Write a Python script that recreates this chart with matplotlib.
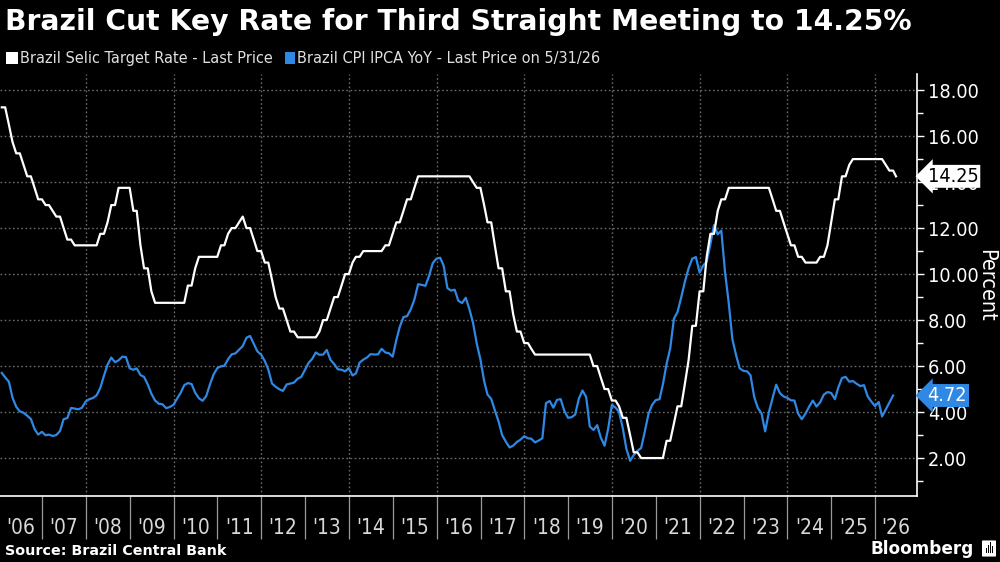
import pandas as pd
import matplotlib.pyplot as plt
import matplotlib.dates as mdates
from matplotlib import font_manager
from matplotlib.font_manager import FontProperties
from matplotlib.patches import Rectangle, FancyBboxPatch
from matplotlib.ticker import FixedLocator, MultipleLocator, NullFormatter
from matplotlib.transforms import blended_transform_factory

# monthly, end of month, Jan 2006 .. May 2026
months = pd.date_range('2006-01-31', '2026-05-31', freq='ME')

selic = [
    17.25, 17.25, 16.5, 15.75, 15.25, 15.25, 14.75, 14.25, 14.25, 13.75, 13.25, 13.25,  # 2006
    13.0, 13.0, 12.75, 12.5, 12.5, 12.0, 11.5, 11.5, 11.25, 11.25, 11.25, 11.25,  # 2007
    11.25, 11.25, 11.25, 11.75, 11.75, 12.25, 13.0, 13.0, 13.75, 13.75, 13.75, 13.75,  # 2008
    12.75, 12.75, 11.25, 10.25, 10.25, 9.25, 8.75, 8.75, 8.75, 8.75, 8.75, 8.75,  # 2009
    8.75, 8.75, 8.75, 9.5, 9.5, 10.25, 10.75, 10.75, 10.75, 10.75, 10.75, 10.75,  # 2010
    11.25, 11.25, 11.75, 12.0, 12.0, 12.25, 12.5, 12.0, 12.0, 11.5, 11.0, 11.0,  # 2011
    10.5, 10.5, 9.75, 9.0, 8.5, 8.5, 8.0, 7.5, 7.5, 7.25, 7.25, 7.25,  # 2012
    7.25, 7.25, 7.25, 7.5, 8.0, 8.0, 8.5, 9.0, 9.0, 9.5, 10.0, 10.0,  # 2013
    10.5, 10.75, 10.75, 11.0, 11.0, 11.0, 11.0, 11.0, 11.0, 11.25, 11.25, 11.75,  # 2014
    12.25, 12.25, 12.75, 13.25, 13.25, 13.75, 14.25, 14.25, 14.25, 14.25, 14.25, 14.25,  # 2015
    14.25, 14.25, 14.25, 14.25, 14.25, 14.25, 14.25, 14.25, 14.25, 14.0, 13.75, 13.75,  # 2016
    13.0, 12.25, 12.25, 11.25, 10.25, 10.25, 9.25, 9.25, 8.25, 7.5, 7.5, 7.0,  # 2017
    7.0, 6.75, 6.5, 6.5, 6.5, 6.5, 6.5, 6.5, 6.5, 6.5, 6.5, 6.5,  # 2018
    6.5, 6.5, 6.5, 6.5, 6.5, 6.5, 6.0, 6.0, 5.5, 5.0, 5.0, 4.5,  # 2019
    4.5, 4.25, 3.75, 3.75, 3.0, 2.25, 2.25, 2.0, 2.0, 2.0, 2.0, 2.0,  # 2020
    2.0, 2.0, 2.75, 2.75, 3.5, 4.25, 4.25, 5.25, 6.25, 7.75, 7.75, 9.25,  # 2021
    9.25, 10.75, 11.75, 11.75, 12.75, 13.25, 13.25, 13.75, 13.75, 13.75, 13.75, 13.75,  # 2022
    13.75, 13.75, 13.75, 13.75, 13.75, 13.75, 13.75, 13.25, 12.75, 12.75, 12.25, 11.75,  # 2023
    11.25, 11.25, 10.75, 10.75, 10.5, 10.5, 10.5, 10.5, 10.75, 10.75, 11.25, 12.25,  # 2024
    13.25, 13.25, 14.25, 14.25, 14.75, 15.0, 15.0, 15.0, 15.0, 15.0, 15.0, 15.0,  # 2025
    15.0, 15.0, 14.75, 14.5, 14.5,  # 2026
]
selic_last_date = pd.Timestamp('2026-06-24')
selic_last = 14.25

ipca = [
    5.70, 5.51, 5.32, 4.63, 4.23, 4.03, 3.97, 3.84, 3.70, 3.26, 3.02, 3.14,  # 2006
    2.99, 3.02, 2.96, 3.00, 3.18, 3.69, 3.74, 4.18, 4.15, 4.12, 4.19, 4.46,  # 2007
    4.56, 4.61, 4.73, 5.04, 5.58, 6.06, 6.37, 6.17, 6.25, 6.41, 6.39, 5.90,  # 2008
    5.84, 5.90, 5.61, 5.53, 5.20, 4.80, 4.50, 4.36, 4.34, 4.17, 4.22, 4.31,  # 2009
    4.59, 4.83, 5.17, 5.26, 5.22, 4.84, 4.60, 4.49, 4.70, 5.20, 5.63, 5.91,  # 2010
    5.99, 6.01, 6.30, 6.51, 6.55, 6.71, 6.87, 7.23, 7.31, 6.97, 6.64, 6.50,  # 2011
    6.22, 5.85, 5.24, 5.10, 4.99, 4.92, 5.20, 5.24, 5.28, 5.45, 5.53, 5.84,  # 2012
    6.15, 6.31, 6.59, 6.49, 6.50, 6.70, 6.27, 6.09, 5.86, 5.84, 5.77, 5.91,  # 2013
    5.59, 5.68, 6.15, 6.28, 6.37, 6.52, 6.50, 6.51, 6.75, 6.59, 6.56, 6.41,  # 2014
    7.14, 7.70, 8.13, 8.17, 8.47, 8.89, 9.56, 9.53, 9.49, 9.93, 10.48, 10.67,  # 2015
    10.71, 10.36, 9.39, 9.28, 9.32, 8.84, 8.74, 8.97, 8.48, 7.87, 6.99, 6.29,  # 2016
    5.35, 4.76, 4.57, 4.08, 3.60, 3.00, 2.71, 2.46, 2.54, 2.70, 2.80, 2.95,  # 2017
    2.86, 2.84, 2.68, 2.76, 2.86, 4.39, 4.48, 4.19, 4.53, 4.56, 4.05, 3.75,  # 2018
    3.78, 3.89, 4.58, 4.94, 4.66, 3.37, 3.22, 3.43, 2.89, 2.54, 3.27, 4.31,  # 2019
    4.19, 4.01, 3.30, 2.40, 1.88, 2.13, 2.31, 2.44, 3.14, 3.92, 4.31, 4.52,  # 2020
    4.56, 5.20, 6.10, 6.76, 8.06, 8.35, 8.99, 9.68, 10.25, 10.67, 10.74, 10.06,  # 2021
    10.38, 10.54, 11.30, 12.13, 11.73, 11.89, 10.07, 8.73, 7.17, 6.47, 5.90, 5.79,  # 2022
    5.77, 5.60, 4.65, 4.18, 3.94, 3.16, 3.99, 4.61, 5.19, 4.82, 4.68, 4.62,  # 2023
    4.51, 4.50, 3.93, 3.69, 3.93, 4.23, 4.50, 4.24, 4.42, 4.76, 4.87, 4.83,  # 2024
    4.56, 5.06, 5.48, 5.53, 5.32, 5.35, 5.23, 5.13, 5.17, 4.68, 4.46, 4.26,  # 2025
    4.44, 3.81, 4.11, 4.41, 4.72,  # 2026
]

years = list(range(2006, 2027))
year_labels = ["'" + str(y)[2:] for y in years]

title = 'Brazil Cut Key Rate for Third Straight Meeting to 14.25%'
legend_selic = 'Brazil Selic Target Rate - Last Price'
legend_ipca = 'Brazil CPI IPCA YoY - Last Price on 5/31/26'
source = 'Source: Brazil Central Bank'

WHITE = '#ffffff'
BLUE = '#2e88e4'
GRID = '#6a6a6a'


def find_narrow_font():
    """
    Look for a condensed / narrow sans regular face among installed fonts.
    :return: path to the font file, or None.
    """
    fonts = font_manager.fontManager.ttflist
    wanted = [
        lambda f: f.name == 'Liberation Sans Narrow',
        lambda f: f.name == 'Noto Sans' and f.stretch in ('condensed', 'semi-condensed', 625, 750),
        lambda f: f.name == 'DejaVu Sans' and f.stretch in ('condensed', 'semi-condensed', 625, 750),
        lambda f: 'Condensed' in f.name or 'Narrow' in f.name,
    ]
    for test in wanted:
        for f in fonts:
            w = f.weight if isinstance(f.weight, int) else 400
            if test(f) and f.style == 'normal' and w in (400, 'normal', 'regular'):
                return f.fname
    return None


narrow_path = find_narrow_font()


def narrow(size):
    if narrow_path:
        return FontProperties(fname=narrow_path, size=size)
    return FontProperties(family='Roboto', size=size)


fig = plt.figure(figsize=(10, 5.62), dpi=100, facecolor='black')
ax = fig.add_axes([0.0, 1 - 496 / 562, 0.917, 422 / 562])
ax.set_facecolor('black')

sel_x = list(months) + [selic_last_date]
sel_y = selic + [selic_last]
ax.plot(months, ipca, color=BLUE, lw=1.6, zorder=3)
ax.plot(sel_x, sel_y, color=WHITE, lw=1.6, zorder=4)

x0 = pd.Timestamp('2006-01-16')
x1 = pd.Timestamp('2026-12-16')
ax.set_xlim(x0, x1)
ax.set_ylim(0.35, 18.7)

# spines
for s in ['left', 'top']:
    ax.spines[s].set_visible(False)
for s in ['bottom', 'right']:
    ax.spines[s].set_color(WHITE)
    ax.spines[s].set_linewidth(1.2)

# y axis on the right
ax.yaxis.tick_right()
ax.yaxis.set_major_locator(MultipleLocator(2))
ax.yaxis.set_minor_locator(MultipleLocator(1))
ax.yaxis.set_major_formatter(lambda v, p: f'{v:.2f}')
ax.tick_params(axis='y', which='major', direction='out', length=5, width=1,
               colors=WHITE, pad=3)
ax.tick_params(axis='y', which='minor', direction='out', length=4, width=1, colors=WHITE)
for lab in ax.get_yticklabels():
    lab.set_fontproperties(narrow(14.2))

# x axis: separators at year starts, labels centred in each year
year_starts = [pd.Timestamp(f'{y}-01-01') for y in years[1:]]
ax.xaxis.set_major_locator(FixedLocator(mdates.date2num(year_starts)))
ax.xaxis.set_major_formatter(NullFormatter())
centres = []
for y in years:
    a = max(pd.Timestamp(f'{y}-01-01'), x0)
    b = min(pd.Timestamp(f'{y + 1}-01-01'), x1)
    centres.append(a + (b - a) / 2)
ax.xaxis.set_minor_locator(FixedLocator(mdates.date2num(centres)))
ax.set_xticklabels(year_labels, minor=True)
ax.tick_params(axis='x', which='major', direction='out', length=31, width=0.9, colors='#9a9a9a')
ax.tick_params(axis='x', which='minor', length=0, pad=16, labelcolor='#d8d8d8')
for lab in ax.get_xticklabels(minor=True):
    lab.set_fontproperties(narrow(15))

# grid: horizontal every 2, vertical every other year
ax.grid(axis='y', which='major', color=GRID, ls=(0, (1.2, 1.8)), lw=1)
for y in range(2008, 2027, 2):
    ax.axvline(pd.Timestamp(f'{y}-01-01'), color=GRID, ls=(0, (1.2, 1.8)), lw=1, zorder=1)

# last value tags
tr = blended_transform_factory(ax.transAxes, ax.transData)
ax.text(1.0115, selic_last, f'{selic_last:.2f}', transform=tr, ha='left', va='center',
        fontproperties=narrow(14.2), color='black', zorder=10, clip_on=False,
        bbox=dict(boxstyle='larrow,pad=0.1', fc=WHITE, ec='none'))
ax.text(1.0115, ipca[-1], f'{ipca[-1]:.2f}', transform=tr, ha='left', va='center',
        fontproperties=narrow(14.2), color=WHITE, zorder=10, clip_on=False,
        bbox=dict(boxstyle='larrow,pad=0.1', fc=BLUE, ec='none'))

fig.text(0.986, 1 - 285 / 562, 'Percent', rotation=270, ha='center', va='center',
         fontproperties=narrow(15.5), color=WHITE)

# title and legend
fig.text(0.005, 1 - 30 / 562, title, ha='left', va='baseline', fontsize=20.3,
         fontweight='bold', family='DejaVu Sans', color=WHITE)
ly = 1 - 58 / 562
fig.patches.append(Rectangle((0.006, ly - 6 / 562), 0.012, 12 / 562, transform=fig.transFigure,
                             fc=WHITE, ec='none'))
fig.text(0.020, ly, legend_selic, ha='left', va='center', fontproperties=narrow(11.6),
         color='#e0e0e0')
fig.patches.append(Rectangle((0.285, ly - 6 / 562), 0.010, 12 / 562, transform=fig.transFigure,
                             fc=BLUE, ec='none'))
fig.text(0.297, ly, legend_ipca, ha='left', va='center', fontproperties=narrow(11.6),
         color='#e0e0e0')

# footer
fig.text(0.005, 1 - 551 / 562, source, ha='left', va='center', fontsize=10.3,
         fontweight='bold', family='DejaVu Sans', color=WHITE)
fig.text(0.974, 1 - 549 / 562, 'Bloomberg', ha='right', va='center', fontsize=12.2,
         fontweight='bold', family='DejaVu Sans', color=WHITE)
fig.patches.append(FancyBboxPatch((0.983, 1 - 556 / 562), 0.012, 15 / 562,
                                  boxstyle='round,pad=0.001', transform=fig.transFigure,
                                  fc=WHITE, ec='none'))
for i, h in enumerate([5, 8, 11, 7]):
    fig.patches.append(Rectangle((0.9855 + i * 0.0022, 1 - 553 / 562), 0.0012, h / 562,
                                 transform=fig.transFigure, fc='black', ec='none'))

fig.savefig('out.png', dpi=100, facecolor='black')
